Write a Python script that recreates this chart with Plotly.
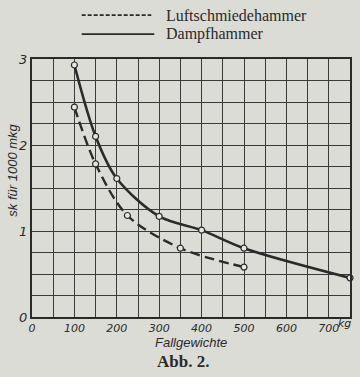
import plotly.graph_objects as go

# Data
luft_x = [100, 150, 225, 350, 500]
luft_y = [2.44, 1.78, 1.18, 0.80, 0.58]
dampf_x = [100, 150, 200, 300, 400, 500, 750]
dampf_y = [2.93, 2.10, 1.61, 1.17, 1.01, 0.80, 0.455]

x_tickvals = [0, 100, 200, 300, 400, 500, 600, 700]
x_ticktext = ["0", "100", "200", "300", "400", "500", "600", "700"]
y_tickvals = [0, 1, 2, 3]
y_ticktext = ["0", "1", "2", "3"]

legend_names = ["Luftschmiedehammer", "Dampfhammer"]

bg = "#dcdcd7"
ink = "#2a2a2a"

fig = go.Figure()
fig.add_trace(go.Scatter(
    x=luft_x, y=luft_y, mode="lines+markers", line_shape="spline",
    line=dict(color=ink, width=2.4, dash="10px,5px", smoothing=0.9),
    marker=dict(symbol="circle", size=6, color="#e6e6e2", line=dict(color=ink, width=1.2)),
    name=legend_names[0], showlegend=False))
fig.add_trace(go.Scatter(
    x=dampf_x, y=dampf_y, mode="lines+markers", line_shape="spline",
    line=dict(color=ink, width=2.6, smoothing=0.9),
    marker=dict(symbol="circle", size=6, color="#e6e6e2", line=dict(color=ink, width=1.2)),
    name=legend_names[1], showlegend=False, cliponaxis=False))

grid_col = "#3a3a3a"
fig.update_xaxes(
    range=[0, 750], tickvals=x_tickvals, ticktext=x_ticktext,
    showgrid=True, gridcolor=grid_col, gridwidth=1.1,
    minor=dict(dtick=50, showgrid=True, gridcolor=grid_col, gridwidth=1.1),
    showline=True, linecolor=ink, linewidth=2, mirror=True, zeroline=False,
    tickfont=dict(family="DejaVu Sans", size=11, color=ink, style="italic"),
    ticks="")
fig.update_yaxes(
    range=[0, 3], tickvals=y_tickvals, ticktext=y_ticktext,
    showgrid=True, gridcolor=grid_col, gridwidth=1.1,
    minor=dict(dtick=0.25, showgrid=True, gridcolor=grid_col, gridwidth=1.1),
    showline=True, linecolor=ink, linewidth=2, mirror=True, zeroline=False,
    tickfont=dict(family="DejaVu Sans", size=13, color=ink, style="italic"),
    ticks="")

# Legend drawn manually
fig.add_shape(type="line", xref="paper", yref="paper", x0=(82-32)/320, x1=(152-32)/320,
              y0=(317-14)/259, y1=(317-14)/259, line=dict(color=ink, width=1.6, dash="4px,2px"))
fig.add_shape(type="line", xref="paper", yref="paper", x0=(82-32)/320, x1=(155-32)/320,
              y0=(317-33)/259, y1=(317-33)/259, line=dict(color=ink, width=1.6))
fig.add_annotation(xref="paper", yref="paper", x=(165-32)/320, y=(317-14)/259,
                   text=legend_names[0], showarrow=False, xanchor="left", yanchor="middle",
                   font=dict(family="Liberation Serif", size=16, color=ink))
fig.add_annotation(xref="paper", yref="paper", x=(165-32)/320, y=(317-33)/259,
                   text=legend_names[1], showarrow=False, xanchor="left", yanchor="middle",
                   font=dict(family="Liberation Serif", size=16, color=ink))

# Axis titles and caption
fig.add_annotation(xref="paper", yref="paper", x=(12-32)/320, y=(317-170)/259,
                   text="sk für 1000 mkg", textangle=-90, showarrow=False,
                   xanchor="center", yanchor="middle",
                   font=dict(family="Liberation Sans", size=13, color=ink, style="italic"))
fig.add_annotation(xref="paper", yref="paper", x=(338-32)/320, y=(317-324)/259,
                   text="kg", showarrow=False, xanchor="left", yanchor="middle",
                   font=dict(family="DejaVu Sans", size=11, color=ink, style="italic"))
fig.add_annotation(xref="paper", yref="paper", x=(192-32)/320, y=(317-343)/259,
                   text="Fallgewichte", showarrow=False, xanchor="center", yanchor="middle",
                   font=dict(family="Liberation Sans", size=13, color=ink, style="italic"))
fig.add_annotation(xref="paper", yref="paper", x=(184-32)/320, y=(317-362)/259,
                   text="<b>Abb. 2.</b>", showarrow=False, xanchor="center", yanchor="middle",
                   font=dict(family="Liberation Serif", size=17, color=ink))

fig.update_layout(
    width=360, height=377,
    margin=dict(l=32, r=8, t=59, b=60),
    paper_bgcolor=bg, plot_bgcolor=bg,
    showlegend=False,
)

fig.write_html(
    "out.html",
    config={"displayModeBar": False},
    post_script="document.body.style.margin='0';document.body.style.background='%s';" % bg,
)
